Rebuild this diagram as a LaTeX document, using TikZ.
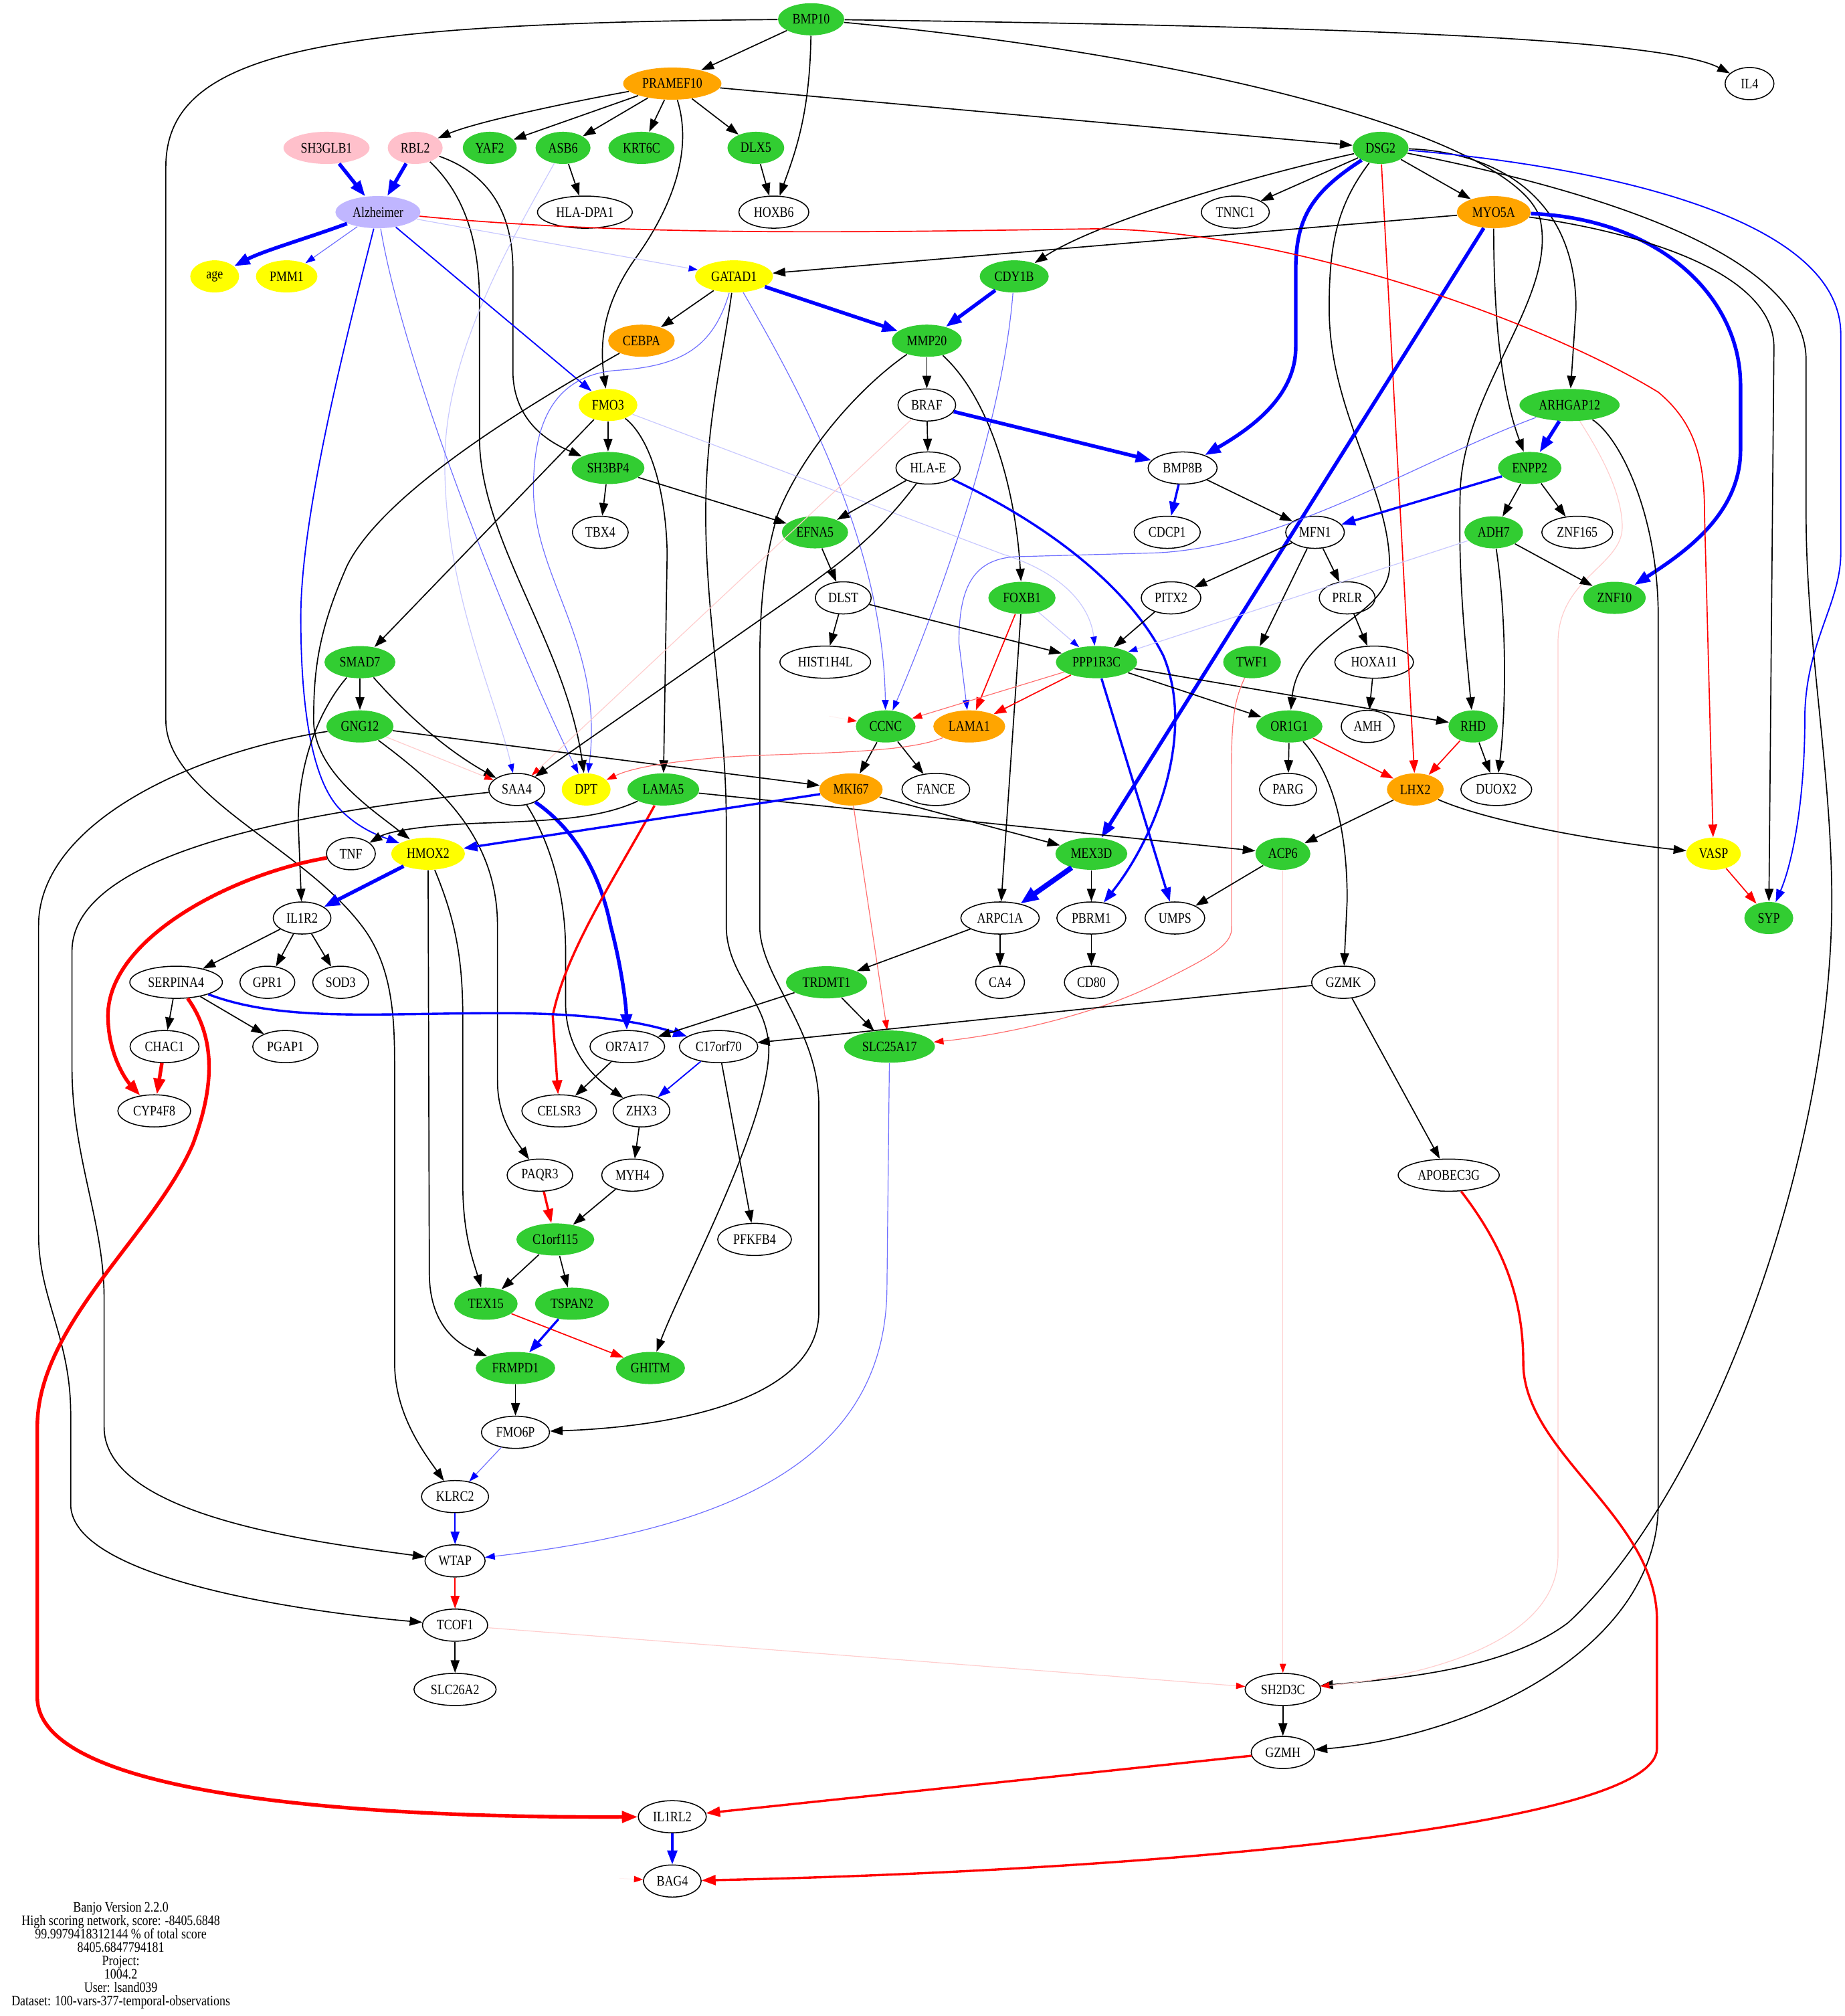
\documentclass[tikz,border=0pt]{standalone}
\usepackage{fontspec}
\setmainfont[FakeStretch=0.83]{Liberation Serif}
\usetikzlibrary{shapes.geometric,arrows.meta}

\definecolor{gGreen}{HTML}{32CD32}
\definecolor{gOrange}{HTML}{FFA500}
\definecolor{gYellow}{HTML}{FFFF00}
\definecolor{gPink}{HTML}{FFC0CB}
\definecolor{gLav}{RGB}{192,182,255}
\definecolor{lBlue}{RGB}{110,110,255}
\definecolor{fBlue}{RGB}{200,200,255}
\definecolor{lRed}{RGB}{255,110,110}
\definecolor{fRed}{RGB}{255,205,205}

\newcommand{\genefont}{\fontsize{6.4}{5.9}\selectfont}

\tikzset{
	gene/.style={ellipse,minimum height=0.5cm,minimum width=0.76cm,inner xsep=2.1pt,inner ysep=0.5pt,font=\genefont},
	wnode/.style={gene,draw,line width=0.45pt,fill=white},
	gnode/.style={gene,fill=gGreen},
	onode/.style={gene,fill=gOrange},
	ynode/.style={gene,fill=gYellow},
	pnode/.style={gene,fill=gPink},
	lnode/.style={gene,fill=gLav},
	blk/.style={-{Triangle[length=5.6pt,width=3.9pt]},line width=0.5pt},
	bl/.style={-{Triangle[length=5.6pt,width=3.9pt]},line width=0.55pt,blue},
	blm/.style={-{Triangle[length=6.2pt,width=4.4pt]},line width=1pt,blue},
	blt/.style={-{Triangle[length=7pt,width=5pt]},line width=1.6pt,blue},
	blx/.style={-{Triangle[length=8pt,width=6pt]},line width=2.3pt,blue},
	bll/.style={-{Triangle[length=4.4pt,width=3pt,color=blue]},line width=0.35pt,draw=lBlue},
	blf/.style={-{Triangle[length=4pt,width=2.8pt,color=blue]},line width=0.35pt,draw=fBlue},
	rd/.style={-{Triangle[length=5.6pt,width=3.9pt]},line width=0.5pt,red},
	rdl/.style={-{Triangle[length=4.4pt,width=3pt,color=red]},line width=0.35pt,draw=lRed},
	rdf/.style={-{Triangle[length=4pt,width=2.8pt,color=red]},line width=0.35pt,draw=fRed},
	rdm/.style={-{Triangle[length=6.2pt,width=4.4pt]},line width=1pt,red},
	rdt/.style={-{Triangle[length=7pt,width=5pt]},line width=1.6pt,red},
	ghost/.style={-{Triangle[length=4pt,width=2.8pt,color=red]},line width=0.3pt,draw=red!6},
}

\begin{document}
\begin{tikzpicture}[x=0.02cm,y=-0.02cm]
	\useasboundingbox (0,0) rectangle (1435,1568);
	\fill[white] (0,0) rectangle (1435,1568);

	\node[gnode] (bmp10) at (631,15) {BMP10};
	\node[wnode] (il4) at (1361,65) {IL4};
	\node[onode] (pramef10) at (523,65) {PRAMEF10};
	\node[pnode] (sh3glb1) at (254,115) {SH3GLB1};
	\node[pnode] (rbl2) at (323,115) {RBL2};
	\node[gnode] (yaf2) at (381,115) {YAF2};
	\node[gnode] (asb6) at (438,115) {ASB6};
	\node[gnode] (krt6c) at (499,115) {KRT6C};
	\node[gnode] (dlx5) at (588,115) {DLX5};
	\node[gnode] (dsg2) at (1074,115) {DSG2};
	\node[lnode] (alz) at (294,165) {Alzheimer};
	\node[wnode] (hladpa1) at (455,165) {HLA-DPA1};
	\node[wnode] (hoxb6) at (602,165) {HOXB6};
	\node[wnode] (tnnc1) at (961,165) {TNNC1};
	\node[onode] (myo5a) at (1162,165) {MYO5A};
	\node[ynode] (age) at (167,215) {age};
	\node[ynode] (pmm1) at (223,215) {PMM1};
	\node[ynode] (gatad1) at (571,215) {GATAD1};
	\node[gnode] (cdy1b) at (789,215) {CDY1B};
	\node[onode] (cebpa) at (499,265) {CEBPA};
	\node[gnode] (mmp20) at (721,265) {MMP20};
	\node[ynode] (fmo3) at (473,315) {FMO3};
	\node[wnode] (braf) at (721,315) {BRAF};
	\node[gnode] (arhgap12) at (1221,315) {ARHGAP12};
	\node[gnode] (sh3bp4) at (473,364) {SH3BP4};
	\node[wnode] (hlae) at (722,364) {HLA-E};
	\node[wnode] (bmp8b) at (920,364) {BMP8B};
	\node[gnode] (enpp2) at (1190,364) {ENPP2};
	\node[wnode] (tbx4) at (467,414) {TBX4};
	\node[gnode] (efna5) at (634,414) {EFNA5};
	\node[wnode] (cdcp1) at (908,414) {CDCP1};
	\node[wnode] (mfn1) at (1023,414) {MFN1};
	\node[gnode] (adh7) at (1162,414) {ADH7};
	\node[wnode] (znf165) at (1227,414) {ZNF165};
	\node[wnode] (dlst) at (656,465) {DLST};
	\node[gnode] (foxb1) at (795,465) {FOXB1};
	\node[wnode] (pitx2) at (911,465) {PITX2};
	\node[wnode] (prlr) at (1048,465) {PRLR};
	\node[gnode] (znf10) at (1256,465) {ZNF10};
	\node[gnode] (smad7) at (280,515) {SMAD7};
	\node[wnode] (hist1h4l) at (642,515) {HIST1H4L};
	\node[gnode] (ppp1r3c) at (853,515) {PPP1R3C};
	\node[gnode] (twf1) at (974,515) {TWF1};
	\node[wnode] (hoxa11) at (1069,515) {HOXA11};
	\node[gnode] (gng12) at (280,565) {GNG12};
	\node[gnode] (ccnc) at (689,565) {CCNC};
	\node[onode] (lama1) at (754,565) {LAMA1};
	\node[gnode] (or1g1) at (1003,565) {OR1G1};
	\node[wnode] (amh) at (1064,565) {AMH};
	\node[gnode] (rhd) at (1146,565) {RHD};
	\node[wnode] (saa4) at (402,614) {SAA4};
	\node[ynode] (dpt) at (456,614) {DPT};
	\node[gnode] (lama5) at (516,614) {LAMA5};
	\node[onode] (mki67) at (662,614) {MKI67};
	\node[wnode] (fance) at (728,614) {FANCE};
	\node[wnode] (parg) at (1002,614) {PARG};
	\node[onode] (lhx2) at (1101,614) {LHX2};
	\node[wnode] (duox2) at (1164,614) {DUOX2};
	\node[wnode] (tnf) at (273,664) {TNF};
	\node[ynode] (hmox2) at (333,664) {HMOX2};
	\node[gnode] (mex3d) at (849,664) {MEX3D};
	\node[gnode] (acp6) at (998,664) {ACP6};
	\node[ynode] (vasp) at (1333,664) {VASP};
	\node[wnode] (il1r2) at (235,714) {IL1R2};
	\node[wnode] (arpc1a) at (778,714) {ARPC1A};
	\node[wnode] (pbrm1) at (849,714) {PBRM1};
	\node[wnode] (umps) at (914,714) {UMPS};
	\node[gnode] (syp) at (1376,714) {SYP};
	\node[wnode] (serpina4) at (137,764) {SERPINA4};
	\node[wnode] (gpr1) at (208,764) {GPR1};
	\node[wnode] (sod3) at (265,764) {SOD3};
	\node[gnode] (trdmt1) at (643,764) {TRDMT1};
	\node[wnode] (ca4) at (778,764) {CA4};
	\node[wnode] (cd80) at (849,764) {CD80};
	\node[wnode] (gzmk) at (1045,764) {GZMK};
	\node[wnode] (chac1) at (128,814) {CHAC1};
	\node[wnode] (pgap1) at (222,814) {PGAP1};
	\node[wnode] (or7a17) at (488,814) {OR7A17};
	\node[wnode] (c17orf70) at (559,814) {C17orf70};
	\node[gnode] (slc25a17) at (692,814) {SLC25A17};
	\node[wnode] (cyp4f8) at (120,864) {CYP4F8};
	\node[wnode] (celsr3) at (435,864) {CELSR3};
	\node[wnode] (zhx3) at (499,864) {ZHX3};
	\node[wnode] (paqr3) at (420,914) {PAQR3};
	\node[wnode] (myh4) at (492,914) {MYH4};
	\node[wnode] (apobec3g) at (1127,914) {APOBEC3G};
	\node[gnode] (c1orf115) at (432,964) {C1orf115};
	\node[wnode] (pfkfb4) at (587,964) {PFKFB4};
	\node[gnode] (tex15) at (378,1014) {TEX15};
	\node[gnode] (tspan2) at (445,1014) {TSPAN2};
	\node[gnode] (frmpd1) at (401,1064) {FRMPD1};
	\node[gnode] (ghitm) at (506,1064) {GHITM};
	\node[wnode] (fmo6p) at (401,1114) {FMO6P};
	\node[wnode] (klrc2) at (354,1164) {KLRC2};
	\node[wnode] (wtap) at (354,1214) {WTAP};
	\node[wnode] (tcof1) at (354,1264) {TCOF1};
	\node[wnode] (slc26a2) at (354,1314) {SLC26A2};
	\node[wnode] (sh2d3c) at (998,1314) {SH2D3C};
	\node[wnode] (gzmh) at (998,1363) {GZMH};
	\node[wnode] (il1rl2) at (523,1413) {IL1RL2};
	\node[wnode] (bag4) at (523,1463) {BAG4};
	\node[font=\genefont,align=center] (banjo) at (94,1521) {Banjo Version 2.2.0\\High scoring network, score: -8405.6848\\99.9979418312144 \% of total score\\8405.6847794181\\Project:\\1004.2\\User: lsand039\\Dataset: 100-vars-377-temporal-observations};

	% top rows
	\draw[blk] (bmp10) -- (pramef10);
	\draw[blk] (bmp10) .. controls (1000,20) and (1290,28) .. (il4);
	\draw[blk] (bmp10) .. controls (630,90) and (618,120) .. (hoxb6);
	\draw[blk] (bmp10) .. controls (250,18) and (129,40) .. (129,130) -- (129,560) .. controls (129,620) and (240,660) .. (285,725) .. controls (305,755) and (307,790) .. (307,830) -- (307,1060) .. controls (307,1100) and (330,1130) .. (klrc2);
	\draw[blk] (bmp10) .. controls (950,45) and (1180,110) .. (1198,170) .. controls (1212,230) and (1140,300) .. (1136,380) .. controls (1134,450) and (1140,500) .. (rhd);
	\draw[blk] (pramef10) .. controls (440,80) and (370,95) .. (rbl2);
	\draw[blk] (pramef10) -- (yaf2);
	\draw[blk] (pramef10) -- (asb6);
	\draw[blk] (pramef10) -- (krt6c);
	\draw[blk] (pramef10) -- (dlx5);
	\draw[blk] (pramef10) -- (dsg2);
	\draw[blk] (pramef10) .. controls (540,120) and (520,165) .. (495,200) .. controls (470,235) and (466,265) .. (fmo3);
	\draw[blt] (sh3glb1) -- (alz);
	\draw[blt] (rbl2) -- (alz);
	\draw[blk] (rbl2) .. controls (360,150) and (373,185) .. (373,235) -- (373,340) .. controls (373,420) and (440,500) .. (dpt);
	\draw[blk] (rbl2) .. controls (380,135) and (399,165) .. (399,210) -- (399,290) .. controls (400,330) and (430,345) .. (sh3bp4);
	\draw[blk] (asb6) -- (hladpa1);
	\draw[blf] (asb6) .. controls (390,200) and (346,280) .. (346,360) .. controls (346,460) and (385,540) .. (saa4);
	\draw[blk] (dlx5) -- (hoxb6);

	% DSG2 and MYO5A
	\draw[blk] (dsg2) -- (tnnc1);
	\draw[blk] (dsg2) -- (myo5a);
	\draw[blk] (dsg2) .. controls (960,140) and (850,175) .. (cdy1b);
	\draw[blt] (dsg2) .. controls (1020,150) and (1008,170) .. (1008,210) -- (1008,270) .. controls (1008,310) and (970,335) .. (bmp8b);
	\draw[blk] (dsg2) .. controls (1040,160) and (1034,190) .. (1034,240) .. controls (1034,320) and (1081,380) .. (1081,440) .. controls (1081,480) and (1010,490) .. (or1g1);
	\draw[rd] (dsg2) -- (lhx2);
	\draw[blk] (dsg2) .. controls (1160,118) and (1226,150) .. (1226,240) -- (arhgap12);
	\draw[blk] (dsg2) .. controls (1250,150) and (1405,200) .. (1405,280) -- (1405,400) .. controls (1405,500) and (1425,600) .. (1425,700) .. controls (1425,900) and (1330,1160) .. (1220,1262) .. controls (1170,1300) and (1080,1306) .. (sh2d3c);
	\draw[bl] (dsg2) .. controls (1250,130) and (1432,170) .. (1432,260) -- (1432,430) .. controls (1432,470) and (1404,500) .. (1404,560) .. controls (1404,620) and (1395,670) .. (syp);
	\draw[blk] (myo5a) -- (gatad1);
	\draw[blt] (myo5a) -- (mex3d);
	\draw[blk] (myo5a) .. controls (1162,260) and (1170,310) .. (enpp2);
	\draw[blt] (myo5a) .. controls (1290,170) and (1354,230) .. (1354,300) -- (1354,350) .. controls (1354,400) and (1310,430) .. (znf10);
	\draw[blk] (myo5a) .. controls (1270,180) and (1380,210) .. (1380,270) -- (syp);

	% Alzheimer
	\draw[blt] (alz) .. controls (240,185) and (205,195) .. (age);
	\draw[bll] (alz) -- (pmm1);
	\draw[blf] (alz) -- (gatad1);
	\draw[bl] (alz) -- (fmo3);
	\draw[bl] (alz) .. controls (270,260) and (234,400) .. (234,480) .. controls (234,560) and (245,610) .. (265,630) .. controls (280,645) and (295,650) .. (hmox2);
	\draw[bll] (alz) .. controls (315,290) and (400,500) .. (dpt);
	\draw[rd] (alz) .. controls (500,185) and (700,180) .. (850,178) .. controls (1000,178) and (1200,250) .. (1290,305) .. controls (1320,330) and (1326,360) .. (1326,400) -- (vasp);

	% GATAD1 to FMO3
	\draw[blk] (gatad1) -- (cebpa);
	\draw[blt] (gatad1) -- (mmp20);
	\draw[bll] (gatad1) .. controls (620,300) and (687,420) .. (ccnc);
	\draw[bll] (gatad1) .. controls (555,270) and (530,285) .. (480,288) .. controls (430,292) and (415,330) .. (415,380) .. controls (415,450) and (470,500) .. (dpt);
	\draw[blk] (gatad1) .. controls (562,280) and (549,330) .. (549,400) .. controls (549,480) and (565,560) .. (565,640) -- (565,720) .. controls (565,760) and (600,780) .. (598,820) .. controls (595,880) and (530,1000) .. (ghitm);
	\draw[blt] (cdy1b) -- (mmp20);
	\draw[bll] (cdy1b) .. controls (780,330) and (730,470) .. (ccnc);
	\draw[blk] (cebpa) .. controls (420,310) and (300,380) .. (270,440) .. controls (248,490) and (244,520) .. (244,560) .. controls (244,600) and (290,630) .. (hmox2);
	\draw[blk] (mmp20) -- (braf);
	\draw[blk] (mmp20) .. controls (770,310) and (790,380) .. (foxb1);
	\draw[blk] (mmp20) .. controls (670,300) and (625,350) .. (605,400) .. controls (593,440) and (591,480) .. (591,520) -- (591,720) .. controls (591,760) and (637,800) .. (637,860) -- (637,1020) .. controls (637,1090) and (520,1110) .. (fmo6p);
	\draw[blk] (fmo3) -- (sh3bp4);
	\draw[blk] (fmo3) .. controls (505,340) and (518,380) .. (519,430) -- (lama5);
	\draw[blf] (fmo3) -- (780,431) .. controls (825,445) and (848,470) .. (ppp1r3c);
	\draw[blk] (fmo3) -- (smad7);
	\draw[blt] (braf) -- (bmp8b);
	\draw[blk] (braf) -- (hlae);
	\draw[rdf] (braf) -- (saa4);

	% ARHGAP12
	\draw[blt] (arhgap12) -- (enpp2);
	\draw[bll] (arhgap12) .. controls (1100,360) and (1000,425) .. (900,430) -- (790,433) .. controls (755,435) and (746,460) .. (746,500) -- (lama1);
	\draw[blk] (arhgap12) .. controls (1260,340) and (1290,400) .. (1290,480) -- (1290,1170) .. controls (1290,1280) and (1150,1350) .. (gzmh);
	\draw[rdf] (arhgap12) .. controls (1240,345) and (1262,380) .. (1262,410) .. controls (1262,440) and (1212,450) .. (1212,500) -- (1212,1210) .. controls (1212,1280) and (1100,1305) .. (sh2d3c);

	% middle rows
	\draw[blk] (sh3bp4) -- (tbx4);
	\draw[blk] (sh3bp4) -- (efna5);
	\draw[blk] (hlae) -- (efna5);
	\draw[blk] (hlae) .. controls (680,420) and (650,440) .. (620,462) -- (saa4);
	\draw[blm] (hlae) .. controls (820,410) and (880,460) .. (905,510) .. controls (930,570) and (900,650) .. (pbrm1);
	\draw[blm] (bmp8b) -- (cdcp1);
	\draw[blk] (bmp8b) -- (mfn1);
	\draw[blm] (enpp2) -- (mfn1);
	\draw[blk] (enpp2) -- (adh7);
	\draw[blk] (enpp2) -- (znf165);
	\draw[blk] (efna5) -- (dlst);
	\draw[blk] (mfn1) -- (pitx2);
	\draw[blk] (mfn1) -- (twf1);
	\draw[blk] (mfn1) -- (prlr);
	\draw[blk] (adh7) -- (znf10);
	\draw[blk] (adh7) .. controls (1172,480) and (1172,550) .. (duox2);
	\draw[blf] (adh7) -- (ppp1r3c);
	\draw[blk] (dlst) -- (hist1h4l);
	\draw[blk] (dlst) -- (ppp1r3c);
	\draw[blf] (foxb1) -- (ppp1r3c);
	\draw[rd] (foxb1) -- (lama1);
	\draw[blk] (foxb1) -- (arpc1a);
	\draw[blk] (pitx2) -- (ppp1r3c);
	\draw[blk] (prlr) -- (hoxa11);
	\draw[blk] (hoxa11) -- (amh);
	\draw[blk] (smad7) -- (gng12);
	\draw[blk] (smad7) .. controls (320,560) and (350,585) .. (saa4);
	\draw[blk] (smad7) .. controls (250,550) and (232,590) .. (232,640) -- (il1r2);
	\draw[rdl] (ppp1r3c) -- (ccnc);
	\draw[rd] (ppp1r3c) -- (lama1);
	\draw[blm] (ppp1r3c) -- (umps);
	\draw[blk] (ppp1r3c) -- (or1g1);
	\draw[blk] (ppp1r3c) -- (rhd);
	\draw[rdl] (twf1) .. controls (960,545) and (958,560) .. (958,600) -- (958,720) .. controls (960,735) and (940,745) .. (900,765) .. controls (850,790) and (780,805) .. (slc25a17);
	\draw[blk] (gng12) -- (mki67);
	\draw[rdf] (gng12) -- (saa4);
	\draw[blk] (gng12) .. controls (340,610) and (387,650) .. (387,720) -- (387,840) .. controls (387,870) and (400,885) .. (paqr3);
	\draw[blk] (gng12) .. controls (150,585) and (30,640) .. (30,720) -- (30,960) .. controls (30,1010) and (55,1040) .. (55,1100) -- (55,1170) .. controls (55,1230) and (250,1255) .. (tcof1);
	\coordinate (ccncin) at (645,557);
	\draw[ghost] (ccncin) -- (ccnc);
	\draw[blk] (ccnc) -- (mki67);
	\draw[blk] (ccnc) -- (fance);
	\draw[rdl] (lama1) .. controls (700,588) and (600,585) .. (550,590) .. controls (510,594) and (490,598) .. (dpt);
	\draw[blk] (or1g1) -- (parg);
	\draw[rd] (or1g1) -- (lhx2);
	\draw[blk] (or1g1) .. controls (1035,600) and (1048,640) .. (1048,700) -- (gzmk);
	\draw[rd] (rhd) -- (lhx2);
	\draw[blk] (rhd) -- (duox2);

	% SAA4 to VASP
	\draw[blk] (saa4) .. controls (250,630) and (56,660) .. (56,740) -- (56,830) .. controls (56,900) and (81,950) .. (81,1010) -- (81,1110) .. controls (81,1180) and (250,1200) .. (wtap);
	\draw[blk] (saa4) .. controls (425,650) and (440,690) .. (440,740) -- (440,780) .. controls (440,820) and (465,840) .. (zhx3);
	\draw[blt] (saa4) .. controls (440,640) and (465,670) .. (475,720) .. controls (483,750) and (487,780) .. (or7a17);
	\draw[blk] (lama5) .. controls (470,635) and (440,638) .. (380,640) .. controls (320,642) and (300,648) .. (tnf);
	\draw[blk] (lama5) -- (acp6);
	\draw[rdm] (lama5) .. controls (480,680) and (440,740) .. (430,790) -- (celsr3);
	\draw[blk] (mki67) -- (mex3d);
	\draw[blm] (mki67) -- (hmox2);
	\draw[rdl] (mki67) -- (slc25a17);
	\draw[blk] (lhx2) -- (acp6);
	\draw[blk] (lhx2) .. controls (1160,640) and (1250,655) .. (vasp);
	\draw[rdt] (tnf) .. controls (180,680) and (84,730) .. (84,790) .. controls (84,820) and (98,840) .. (cyp4f8);
	\draw[blt] (hmox2) -- (il1r2);
	\draw[blk] (hmox2) .. controls (352,710) and (360,740) .. (360,790) -- (360,920) .. controls (360,960) and (368,980) .. (tex15);
	\draw[blk] (hmox2) -- (334,990) .. controls (334,1030) and (355,1045) .. (frmpd1);
	\draw[blx] (mex3d) -- (arpc1a);
	\draw[blk] (mex3d) -- (pbrm1);
	\draw[blk] (acp6) -- (umps);
	\draw[rdf] (acp6) -- (sh2d3c);
	\draw[rd] (vasp) -- (syp);

	% lower rows
	\draw[blk] (il1r2) -- (serpina4);
	\draw[blk] (il1r2) -- (gpr1);
	\draw[blk] (il1r2) -- (sod3);
	\draw[blk] (arpc1a) -- (ca4);
	\draw[blk] (arpc1a) -- (trdmt1);
	\draw[blk] (pbrm1) -- (cd80);
	\draw[blk] (serpina4) -- (chac1);
	\draw[blk] (serpina4) -- (pgap1);
	\draw[blm] (serpina4) .. controls (220,795) and (290,788) .. (390,788) .. controls (460,788) and (500,795) .. (c17orf70);
	\draw[rdt] (serpina4) .. controls (170,810) and (165,850) .. (150,890) .. controls (120,960) and (29,1030) .. (29,1110) -- (29,1320) .. controls (29,1400) and (300,1414) .. (il1rl2);
	\draw[blk] (trdmt1) -- (or7a17);
	\draw[blk] (trdmt1) -- (slc25a17);
	\draw[blk] (gzmk) -- (c17orf70);
	\draw[blk] (gzmk) -- (apobec3g);
	\draw[rdt] (chac1) -- (cyp4f8);
	\draw[blk] (or7a17) -- (celsr3);
	\draw[bl] (c17orf70) -- (zhx3);
	\draw[blk] (c17orf70) -- (pfkfb4);
	\draw[bll] (slc25a17) -- (690,1000) .. controls (690,1140) and (560,1190) .. (wtap);
	\draw[blk] (zhx3) -- (myh4);
	\draw[rdm] (paqr3) -- (c1orf115);
	\draw[blk] (myh4) -- (c1orf115);
	\draw[rdm] (apobec3g) .. controls (1170,970) and (1185,1010) .. (1185,1060) .. controls (1185,1130) and (1289,1180) .. (1289,1260) -- (1289,1360) .. controls (1289,1420) and (900,1455) .. (bag4);
	\draw[blk] (c1orf115) -- (tex15);
	\draw[blk] (c1orf115) -- (tspan2);
	\draw[rd] (tex15) -- (ghitm);
	\draw[blm] (tspan2) -- (frmpd1);
	\draw[blk] (frmpd1) -- (fmo6p);
	\draw[bll] (fmo6p) -- (klrc2);
	\draw[bl] (klrc2) -- (wtap);
	\draw[rd] (wtap) -- (tcof1);
	\draw[blk] (tcof1) -- (slc26a2);
	\draw[rdf] (tcof1) -- (sh2d3c);
	\draw[blk] (sh2d3c) -- (gzmh);
	\draw[rdm] (gzmh) -- (il1rl2);
	\draw[blm] (il1rl2) -- (bag4);
	\coordinate (bag4in) at (482,1461);
	\draw[ghost] (bag4in) -- (bag4);
\end{tikzpicture}
\end{document}
